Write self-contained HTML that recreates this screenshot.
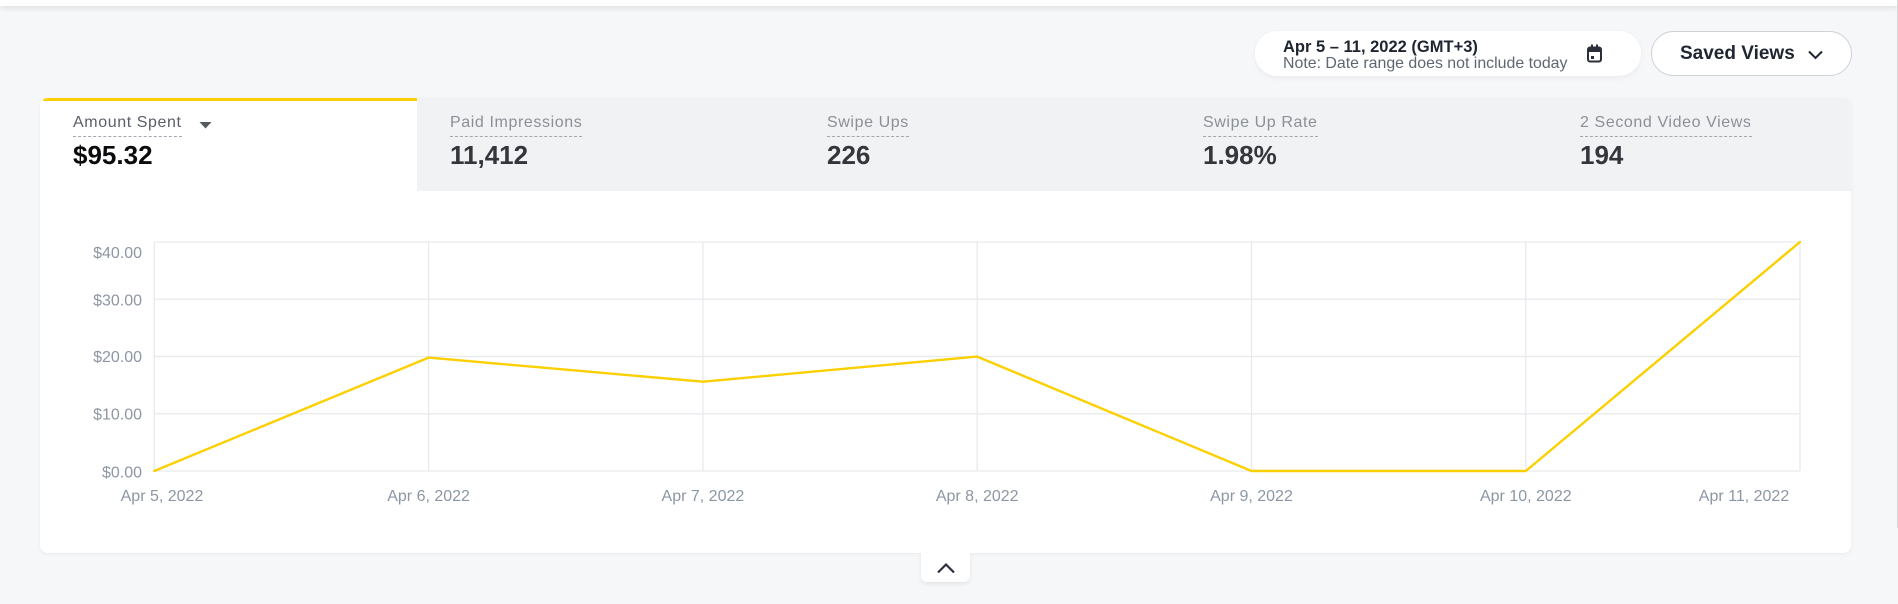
<!DOCTYPE html>
<html>
<head>
<meta charset="utf-8">
<style>
  html, body { margin:0; padding:0; }
  body { width:1898px; height:604px; background:#f6f7f9; position:relative; overflow:hidden;
         font-family:"Liberation Sans", Arial, sans-serif; }
  .abs { position:absolute; }
  .topbar { left:0; top:0; width:1898px; height:6px; background:#fff; box-shadow:0 2px 6px rgba(0,0,0,0.10); }
  .pill { left:1255px; top:31px; width:386px; height:45px; background:#fff; border-radius:23px;
          box-shadow:0 2px 6px rgba(0,0,0,0.05); }
  .pill .l1 { position:absolute; left:28px; top:7px; font-size:16.5px; font-weight:bold; color:#1e2430; white-space:nowrap; line-height:19px; }
  .pill .l2 { position:absolute; left:28px; top:23px; font-size:15.9px; color:#5f6672; white-space:nowrap; line-height:19px; }
  .saved { left:1651px; top:31px; width:199px; height:43px; background:#fff; border:1px solid #cfd3d8; border-radius:23px; }
  .saved .t { position:absolute; left:28px; top:11px; font-size:19px; font-weight:bold; color:#1f2531; white-space:nowrap; line-height:22px; }
  .card { left:40px; top:98px; width:1811px; height:455px; background:#fff; border-radius:8px;
          box-shadow:0 1px 4px rgba(0,0,0,0.06); overflow:hidden; }
  .tabgray { left:377px; top:0; width:1434px; height:93px; background:#f1f2f4; }
  .yellow { left:3px; top:0; width:374px; height:3px; background:#fcd000; }
  .lab { position:absolute; font-size:16px; letter-spacing:0.6px; line-height:18px; white-space:nowrap;
         border-bottom:1px dashed #a3a8b0; padding-bottom:4px; }
  .val { position:absolute; font-size:26px; font-weight:bold; line-height:30px; white-space:nowrap; }
  .collapse { left:921px; top:553px; width:49px; height:29px; background:#fff; border-radius:0 0 6px 6px;
              box-shadow:0 2px 4px rgba(0,0,0,0.08); }
  .scroll { left:1897px; top:0; width:1px; height:528px; background:#d6d7d9; }
</style>
</head>
<body>
<div class="abs topbar"></div>
<div class="abs scroll"></div>

<div class="abs pill">
  <div class="l1">Apr 5 – 11, 2022 (GMT+3)</div>
  <div class="l2">Note: Date range does not include today</div>
  <svg class="abs" style="left:331px;top:13px" width="17" height="19" viewBox="0 0 17 19">
    <rect x="2" y="3.5" width="13" height="14" rx="2" fill="none" stroke="#2a2f3a" stroke-width="2"/>
    <rect x="2" y="4" width="13" height="4" fill="#2a2f3a"/>
    <rect x="5" y="0.5" width="2" height="4" fill="#2a2f3a"/>
    <rect x="10" y="0.5" width="2" height="4" fill="#2a2f3a"/>
    <rect x="5" y="12" width="3" height="3" fill="#2a2f3a"/>
  </svg>
</div>

<div class="abs saved">
  <div class="t">Saved Views</div>
  <svg class="abs" style="left:155px;top:18px" width="18" height="10" viewBox="0 0 18 10">
    <polyline points="2,1.5 8.5,8 15,1.5" fill="none" stroke="#1f2531" stroke-width="2"/>
  </svg>
</div>

<div class="abs card">
  <div class="abs tabgray"></div>
  <div class="abs yellow"></div>

  <div class="lab" style="left:33px;top:16px;color:#595f69;">Amount Spent</div>
  <svg class="abs" style="left:159px;top:24px" width="13" height="7" viewBox="0 0 13 7">
    <polygon points="0.5,0 12.5,0 6.5,6.5" fill="#55595f"/>
  </svg>
  <div class="val" style="left:33px;top:42px;color:#0b0c0e;">$95.32</div>

  <div class="lab" style="left:410px;top:16px;color:#8b8f96;">Paid Impressions</div>
  <div class="val" style="left:410px;top:42px;color:#33363b;">11,412</div>

  <div class="lab" style="left:787px;top:16px;color:#8b8f96;">Swipe Ups</div>
  <div class="val" style="left:787px;top:42px;color:#33363b;">226</div>

  <div class="lab" style="left:1163px;top:16px;color:#8b8f96;">Swipe Up Rate</div>
  <div class="val" style="left:1163px;top:42px;color:#33363b;">1.98%</div>

  <div class="lab" style="left:1540px;top:16px;color:#8b8f96;">2 Second Video Views</div>
  <div class="val" style="left:1540px;top:42px;color:#33363b;">194</div>
</div>

<svg class="abs" style="left:0;top:0" width="1898" height="604" viewBox="0 0 1898 604">
  <g stroke="#e7e9ed" stroke-width="1.3" fill="none">
    <line x1="154.3" y1="242" x2="1800" y2="242"/>
    <line x1="154.3" y1="299.25" x2="1800" y2="299.25"/>
    <line x1="154.3" y1="356.5" x2="1800" y2="356.5"/>
    <line x1="154.3" y1="413.75" x2="1800" y2="413.75"/>
    <line x1="154.3" y1="471" x2="1800" y2="471"/>
    <line x1="154.3" y1="242" x2="154.3" y2="471"/>
    <line x1="428.6" y1="242" x2="428.6" y2="471"/>
    <line x1="702.9" y1="242" x2="702.9" y2="471"/>
    <line x1="977.2" y1="242" x2="977.2" y2="471"/>
    <line x1="1251.5" y1="242" x2="1251.5" y2="471"/>
    <line x1="1525.8" y1="242" x2="1525.8" y2="471"/>
    <line x1="1800" y1="242" x2="1800" y2="471"/>
  </g>
  <g font-family="Liberation Sans, Arial, sans-serif" font-size="16" fill="#8d96a3" text-anchor="end">
    <text x="142" y="258">$40.00</text>
    <text x="142" y="305.5">$30.00</text>
    <text x="142" y="362">$20.00</text>
    <text x="142" y="419.5">$10.00</text>
    <text x="142" y="477.5">$0.00</text>
  </g>
  <g font-family="Liberation Sans, Arial, sans-serif" font-size="16" fill="#8d96a3" text-anchor="middle">
    <text x="162" y="501">Apr 5, 2022</text>
    <text x="428.6" y="501">Apr 6, 2022</text>
    <text x="702.9" y="501">Apr 7, 2022</text>
    <text x="977.2" y="501">Apr 8, 2022</text>
    <text x="1251.5" y="501">Apr 9, 2022</text>
    <text x="1525.8" y="501">Apr 10, 2022</text>
    <text x="1744" y="501">Apr 11, 2022</text>
  </g>
  <polyline points="154.3,471 428.6,357.6 702.9,381.7 977.2,356.6 1251.5,471 1525.8,471 1800,242"
            fill="none" stroke="#fcd000" stroke-width="2.4" stroke-linejoin="round" stroke-linecap="round"/>
</svg>

<div class="abs collapse">
  <svg class="abs" style="left:15px;top:9px" width="20" height="12" viewBox="0 0 20 12">
    <polyline points="2,10.5 10,2.5 18,10.5" fill="none" stroke="#2a2f3a" stroke-width="2.2"/>
  </svg>
</div>
</body>
</html>
